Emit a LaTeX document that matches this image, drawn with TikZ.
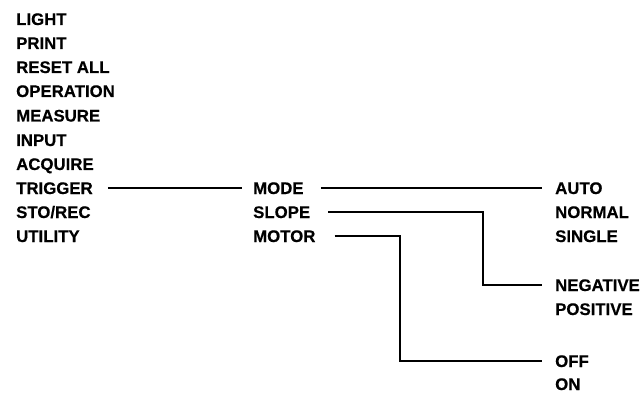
\documentclass[tikz,border=0pt]{standalone}
\usepackage{fontspec}
\setmainfont[FakeBold=0.4]{Liberation Sans}
\begin{document}
\begin{tikzpicture}[x=1pt,y=-1pt,
  lbl/.style={anchor=west,inner sep=0pt,font=\fontsize{16.8}{18}\selectfont\bfseries,text height=12pt,text depth=0pt},
  conn/.style={line width=1.1pt}]
\useasboundingbox (0,0) rectangle (640,393);
% left column
\node[lbl] (light)   at (16,19)    {LIGHT};
\node[lbl] (print)   at (16,43)    {PRINT};
\node[lbl] (reset)   at (16,67)    {RESET ALL};
\node[lbl] (oper)    at (16,91)    {OPERATION};
\node[lbl] (measure) at (16,115.5) {MEASURE};
\node[lbl] (input)   at (16,140)   {INPUT};
\node[lbl] (acquire) at (16,164)   {ACQUIRE};
\node[lbl] (trigger) at (16,188)   {TRIGGER};
\node[lbl] (storec)  at (16,212)   {STO/REC};
\node[lbl] (utility) at (16,236)   {UTILITY};
% middle column
\node[lbl] (mode)  at (253,188) {MODE};
\node[lbl] (slope) at (253,212) {SLOPE};
\node[lbl] (motor) at (253,236) {MOTOR};
% right column
\node[lbl] (auto)     at (555,188) {AUTO};
\node[lbl] (normal)   at (555,212) {NORMAL};
\node[lbl] (single)   at (555,236) {SINGLE};
\node[lbl] (negative) at (555,285) {NEGATIVE};
\node[lbl] (positive) at (555,309) {POSITIVE};
\node[lbl] (off)      at (555,361) {OFF};
\node[lbl] (on)       at (555,384) {ON};
% bend columns
\coordinate (sbend) at (483,0);
\coordinate (mbend) at (400,0);
% connectors
\draw[conn] ([xshift=15pt]trigger.east) -- ([xshift=-11pt]mode.west);
\draw[conn] ([xshift=17pt]mode.east) -- ([xshift=-13pt]auto.west);
\draw[conn] ([xshift=18pt]slope.east) -| (sbend |- negative.west) -- ([xshift=-13pt]negative.west);
\draw[conn] ([xshift=19pt]motor.east) -| (mbend |- off.west) -- ([xshift=-13pt]off.west);
\end{tikzpicture}
\end{document}
